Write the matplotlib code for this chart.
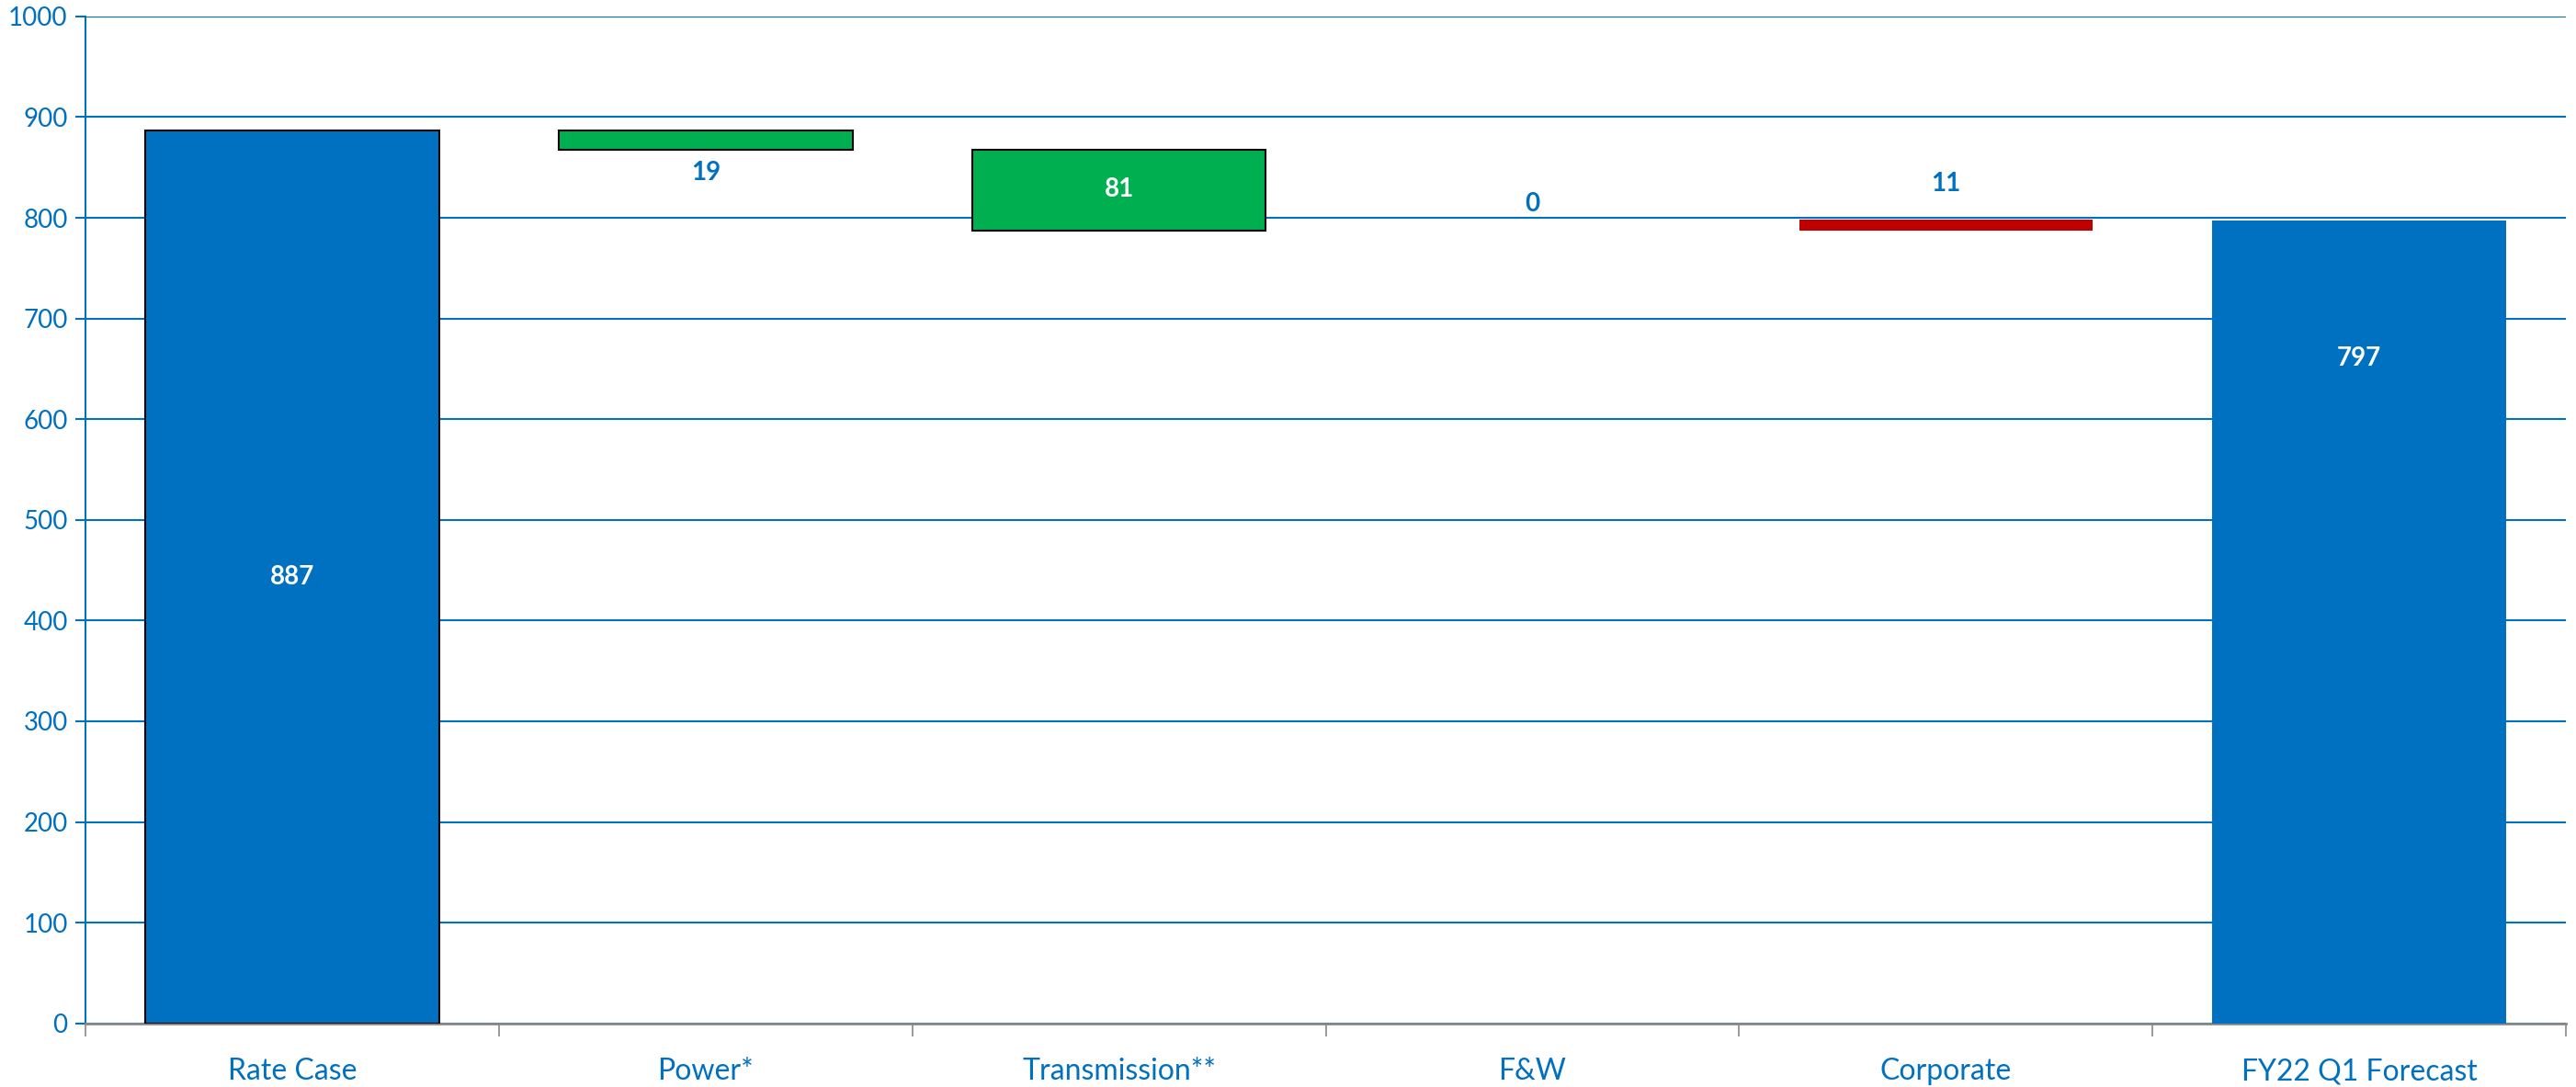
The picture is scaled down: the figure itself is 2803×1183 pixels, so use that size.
import matplotlib
matplotlib.use("Agg")
import matplotlib.pyplot as plt
import numpy as np

categories = ["Rate Case", "Power*", "Transmission**", "F&W", "Corporate", "FY22 Q1 Forecast"]
values = [887, -19, -81, 0, 11, 797]
labels = ["887", "19", "81", "0", "11", "797"]
kinds = ["total", "delta", "delta", "delta", "delta", "total"]
# label positions (y in data units) relative to each bar
label_y = [443, 845, 828, 814, 834, 660]

BLUE = "#0070C0"
GREEN = "#00B050"
RED = "#C00000"

plt.rcParams['font.family'] = ['Lato', 'DejaVu Sans']

fig = plt.figure(figsize=(28.03, 11.83), dpi=100)
ax = fig.add_axes([0.0332, 0.0586, 0.9629, 0.9263])

x = np.arange(len(categories))
bottoms, heights, colors = [], [], []
running = 0
for v, k in zip(values, kinds):
    if k == "total":
        bottoms.append(0)
        heights.append(v)
        running = v
        colors.append(BLUE)
    else:
        new = running + v
        bottoms.append(min(running, new))
        heights.append(abs(v))
        colors.append(GREEN if v < 0 else RED)
        running = new
edge_flags = [True, True, True, False, False, False]

for i in range(len(categories)):
    if heights[i] == 0:
        continue
    ax.bar(x[i], heights[i], bottom=bottoms[i], width=0.71, color=colors[i],
           edgecolor="black" if edge_flags[i] else "none",
           linewidth=1.5 if edge_flags[i] else 0, zorder=3)

label_colors = ["white", BLUE, "white", BLUE, BLUE, "white"]
for i, lab in enumerate(labels):
    ax.text(x[i], label_y[i], lab, ha="center", va="center", fontsize=20,
            fontweight="bold", color=label_colors[i], zorder=4)

ax.set_xlim(-0.5, len(categories) - 0.5)
ax.set_ylim(0, 1000)
ax.set_yticks(np.arange(0, 1001, 100))
ax.yaxis.grid(True, color=BLUE, linewidth=1.5, zorder=0)
ax.set_axisbelow(True)

ax.set_xticks(np.arange(-0.5, len(categories), 1))
ax.set_xticklabels([])
ax.set_xticks(x, minor=True)
ax.set_xticklabels(categories, minor=True)
ax.tick_params(axis="x", which="major", length=10, width=1.2, color="#888888", direction="out")
ax.tick_params(axis="x", which="minor", length=0, pad=27, labelsize=23, labelcolor=BLUE)
ax.tick_params(axis="y", length=8, width=1.5, color=BLUE, labelsize=20, labelcolor=BLUE, pad=6)

for s in ["top", "right"]:
    ax.spines[s].set_visible(False)
ax.spines["left"].set_color(BLUE)
ax.spines["left"].set_linewidth(1.5)
ax.spines["bottom"].set_color("#888888")
ax.spines["bottom"].set_linewidth(2)

fig.savefig("out.png", dpi=100)
